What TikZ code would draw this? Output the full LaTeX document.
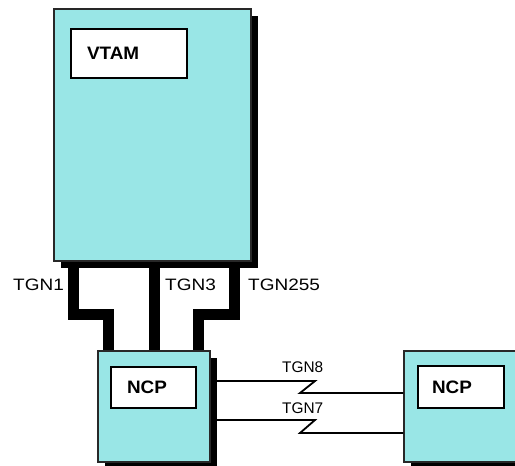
\documentclass[tikz,border=0pt]{standalone}
\usepackage{fontspec}
\usetikzlibrary{shadows}
\newfontfamily\labfont[FakeStretch=1.15]{Liberation Sans}
\newfontfamily\smallfont{Liberation Sans}
\newfontfamily\boldfont[FakeStretch=1.05]{Liberation Sans Bold}
\definecolor{boxcyan}{RGB}{153,230,230}
\definecolor{edge}{RGB}{40,40,40}
\tikzset{
  sysbox/.style={draw=edge, line width=1.4pt, fill=boxcyan, inner sep=0pt,
    drop shadow={shadow xshift=7pt, shadow yshift=-7pt, fill=black, opacity=1}},
  namebox/.style={draw=black, line width=1.8pt, fill=white, inner ysep=0pt,
    align=left, font=\boldfont\fontsize{18pt}{20pt}\selectfont},
  trunk/.style={line width=11pt, line join=miter, line cap=butt, draw=black},
  tgline/.style={line width=1.8pt, draw=black, line join=miter},
  biglab/.style={anchor=west, inner sep=0pt, font=\labfont\fontsize{16.5pt}{18pt}\selectfont},
  smalllab/.style={anchor=west, inner sep=0pt, font=\smallfont\fontsize{15.4pt}{17pt}\selectfont}
}
\begin{document}
\begin{tikzpicture}[x=1pt,y=-1pt]
\useasboundingbox (0,0) rectangle (515,466);
\clip (0,0) rectangle (515,466);
% boxes
\node[sysbox, minimum width=197pt, minimum height=252pt] (host) at (152.5,135) {};
\node[namebox, minimum height=49pt, text width=84pt, inner xsep=16pt] (vtam) at (129,53.5) {VTAM};
\node[sysbox, minimum width=112pt, minimum height=111pt] (ncp1) at (154,406.5) {};
\node[namebox, minimum height=41pt, text width=53pt, inner xsep=16pt] (ncpa) at (153.5,387.5) {NCP};
\node[sysbox, minimum width=114pt, minimum height=111pt] (ncp2) at (461,406.5) {};
\node[namebox, minimum height=42pt, text width=58pt, inner xsep=14pt] (ncpb) at (461,387) {NCP};
% guide coordinates
\coordinate (x1) at (73.5,0);
\coordinate (x1b) at (108.5,0);
\coordinate (x3) at (154.5,0);
\coordinate (x5) at (234.5,0);
\coordinate (x5b) at (198.5,0);
\coordinate (ys) at (0,314);
\coordinate (y8) at (0,381);
\coordinate (y8b) at (0,393);
\coordinate (y7) at (0,420);
\coordinate (y7b) at (0,433);
\coordinate (zr) at (315,0);
\coordinate (zl) at (300,0);
\coordinate (sh) at (217,0);
% trunks
\draw[trunk] (host.south -| x1) -- (x1 |- ys) -- (x1b |- ys) -- (ncp1.north -| x1b);
\draw[trunk] (host.south -| x3) -- (ncp1.north -| x3);
\draw[trunk] (host.south -| x5) -- (x5 |- ys) -- (x5b |- ys) -- (ncp1.north -| x5b);
% TG lines
\draw[tgline] (sh |- y8) -- (zr |- y8) -- (zl |- y8b) -- (ncp2.west |- y8b);
\draw[tgline] (sh |- y7) -- (zr |- y7) -- (zl |- y7b) -- (ncp2.west |- y7b);
% labels
\node[biglab] (l1) at (13,285) {TGN1};
\node[biglab] (l3) at (165,285) {TGN3};
\node[biglab] (l255) at (248,285) {TGN255};
\node[smalllab] (l8) at (282,367) {TGN8};
\node[smalllab] (l7) at (282,408) {TGN7};
\end{tikzpicture}
\end{document}
